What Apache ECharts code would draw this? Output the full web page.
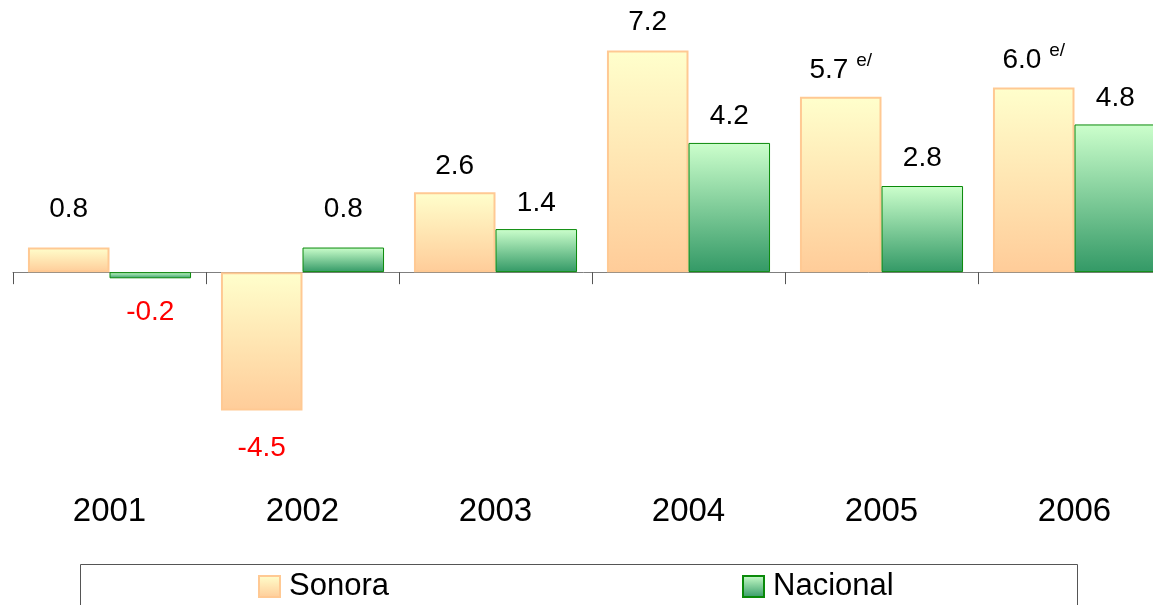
<!DOCTYPE html>
<html><head><meta charset="utf-8">
<script src="https://cdn.jsdelivr.net/npm/echarts@6/dist/echarts.min.js"></script>
<style>html,body{margin:0;padding:0;background:#fff}#c{width:1153px;height:605px}</style>
</head><body><div id="c"></div>
<script>
// ---- data ----
const years = ['2001', '2002', '2003', '2004', '2005', '2006'];
const sonora = [0.8, -4.5, 2.6, 7.2, 5.7, 6.0];
const nacional = [-0.2, 0.8, 1.4, 4.2, 2.8, 4.8];
const sonoraNote = ['', '', '', '', 'e/', 'e/'];
const nacionalNote = ['', '', '', '', '', ''];
const seriesNames = ['Sonora', 'Nacional'];

// ---- styling (label gaps from bar ends) ----
const sonoraGap = [24.5, 24, 11.5, 14, 12.5, 13.5];
const nacionalGap = [20, 24.5, 12, 12.5, 13.5, 12.5];

const FONT = 'Liberation Sans, Arial, sans-serif';

function buildItems(vals, gaps) {
  return vals.map((v, i) => ({
    value: v,
    label: {
      position: v < 0 ? 'bottom' : 'top',
      distance: gaps[i],
      color: v < 0 ? '#ff0000' : '#000000'
    }
  }));
}
function makeFormatter(notes) {
  return p => {
    const t = Number(p.value).toFixed(1);
    const n = notes[p.dataIndex];
    return n ? '{vn|' + t + ' }{s|' + n + '}' : '{v|' + t + '}';
  };
}
const rich = {
  v: { fontSize: 28, fontFamily: FONT },
  vn: { fontSize: 28, fontFamily: FONT, padding: [5, 0, 0, 0], verticalAlign: 'bottom' },
  s: { fontSize: 19, fontFamily: FONT, verticalAlign: 'top' }
};

const sonoraFill = new echarts.graphic.LinearGradient(0, 0, 0, 1, [
  { offset: 0, color: '#FFFFCC' }, { offset: 1, color: '#FFCC99' }
]);
const nacionalFill = new echarts.graphic.LinearGradient(0, 0, 0, 1, [
  { offset: 0, color: '#CCFFCC' }, { offset: 1, color: '#339966' }
]);

const chart = echarts.init(document.getElementById('c'), null, { renderer: 'canvas' });
chart.setOption({
  animation: false,
  backgroundColor: '#ffffff',
  grid: { left: 13, right: -18, top: 26, height: 400, containLabel: false, outerBoundsMode: 'none' },
  xAxis: [
    {
      type: 'category',
      data: years,
      axisLine: { onZero: true, lineStyle: { color: '#7f7f7f', width: 1 } },
      axisTick: { show: true, length: 12, lineStyle: { color: '#555555' } },
      axisLabel: { show: false },
      splitLine: { show: false }
    },
    {
      type: 'category',
      data: years,
      position: 'bottom',
      axisLine: { show: false, onZero: false },
      axisTick: { show: false },
      axisLabel: { show: true, margin: 69, fontSize: 33, color: '#000000', fontFamily: FONT, hideOverlap: false },
      splitLine: { show: false }
    }
  ],
  yAxis: { type: 'value', min: -5, max: 8, show: false },
  legend: [
    {
      data: [seriesNames[0]], left: 258, top: 571, padding: 0, icon: 'rect',
      itemWidth: 21, itemHeight: 21,
      textStyle: { fontSize: 31, color: '#000000', fontFamily: FONT, padding: [0, 0, 0, 4] }
    },
    {
      data: [seriesNames[1]], left: 742, top: 571, padding: 0, icon: 'rect',
      itemWidth: 21, itemHeight: 21,
      textStyle: { fontSize: 31, color: '#000000', fontFamily: FONT, padding: [0, 0, 0, 4] }
    }
  ],
  graphic: [{
    type: 'rect', z: 0, silent: true,
    shape: { x: 80.5, y: 564.5, width: 997, height: 60 },
    style: { fill: 'none', stroke: '#555555', lineWidth: 1 }
  }],
  series: [
    {
      name: seriesNames[0], type: 'bar', xAxisIndex: 0,
      data: buildItems(sonora, sonoraGap),
      barGap: '0%', barCategoryGap: '15.5%',
      itemStyle: { color: sonoraFill, borderColor: '#FFC993', borderWidth: 2 },
      label: { show: true, fontSize: 28, fontFamily: FONT, formatter: makeFormatter(sonoraNote), rich: rich }
    },
    {
      name: seriesNames[1], type: 'bar', xAxisIndex: 0,
      data: buildItems(nacional, nacionalGap),
      barGap: '0%', barCategoryGap: '15.5%',
      itemStyle: { color: nacionalFill, borderColor: '#0A8A0A', borderWidth: 1 },
      label: { show: true, fontSize: 28, fontFamily: FONT, formatter: makeFormatter(nacionalNote), rich: rich }
    }
  ]
});
</script>
</body></html>
